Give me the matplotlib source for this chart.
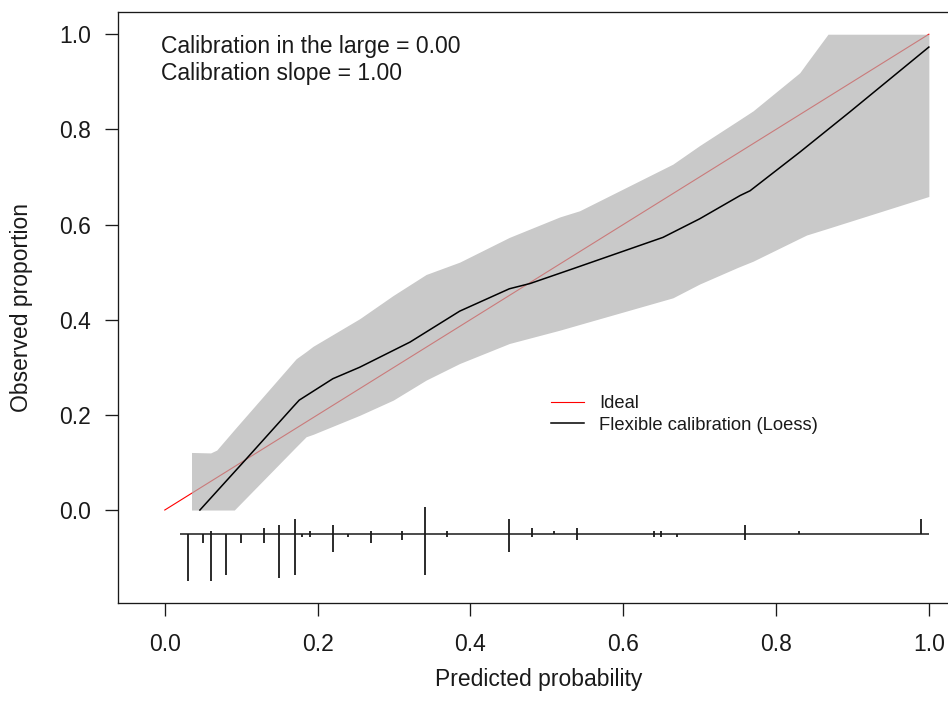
"""
calibration_plot.py
Flexible (loess) calibration curve with 95% band, ideal line and
spike histogram of predicted risks (events up, non-events down).
"""

import numpy as np
import matplotlib
matplotlib.use("Agg")
import matplotlib.pyplot as plt

# ── Data ──────────────────────────────────────────────────────
CAL_LARGE = 0.00
CAL_SLOPE = 1.00

ideal_x = [0.0, 1.0]
ideal_y = [0.0, 1.0]

loess_x = [0.046, 0.107, 0.168, 0.176, 0.220, 0.255, 0.321, 0.386, 0.451,
           0.478, 0.534, 0.652, 0.700, 0.753, 0.766, 0.831, 0.896, 1.000]
loess_y = [0.000, 0.108, 0.217, 0.231, 0.276, 0.300, 0.353, 0.418, 0.465,
           0.476, 0.507, 0.573, 0.612, 0.661, 0.671, 0.752, 0.836, 0.973]

band_x  = [0.035, 0.060, 0.068, 0.091, 0.172, 0.185, 0.194, 0.255, 0.299,
           0.342, 0.386, 0.451, 0.517, 0.543, 0.665, 0.700, 0.750, 0.770,
           0.831, 0.840, 0.868, 1.000]
band_hi = [0.121, 0.120, 0.126, 0.169, 0.318, 0.333, 0.344, 0.402, 0.451,
           0.495, 0.521, 0.573, 0.616, 0.629, 0.727, 0.766, 0.818, 0.839,
           0.919, 0.939, 1.000, 1.000]
band_lo = [0.000, 0.000, 0.000, 0.000, 0.133, 0.154, 0.159, 0.199, 0.231,
           0.273, 0.308, 0.350, 0.378, 0.390, 0.446, 0.475, 0.510, 0.523,
           0.571, 0.578, 0.592, 0.659]

# spike histogram: bin position, count of non-events (down), events (up)
spike_x  = [0.03, 0.05, 0.06, 0.08, 0.10, 0.13, 0.15, 0.17, 0.18, 0.19,
            0.22, 0.24, 0.27, 0.31, 0.34, 0.37, 0.45, 0.48, 0.51, 0.54,
            0.64, 0.65, 0.67, 0.76, 0.83, 0.99]
n_nonevt = [16, 3, 16, 14, 3, 3, 15, 14, 1, 1,
            6, 1, 3, 2, 14, 1, 6, 1, 0, 2,
            1, 1, 1, 2, 0, 0]
n_event  = [0, 0, 1, 0, 0, 2, 3, 5, 0, 1,
            3, 0, 1, 1, 9, 1, 5, 2, 1, 2,
            1, 1, 0, 3, 1, 5]

# ── Style ─────────────────────────────────────────────────────
FONT      = ["Liberation Sans", "DejaVu Sans"]
FS_MAIN   = 16.5
FS_LEG    = 13.2
INK       = "#1a1a1a"
BAND_CLR  = (177 / 255, 177 / 255, 177 / 255)
BAND_A    = 177 / 255
SPIKE_Y   = -0.05        # baseline of the spike histogram
SPIKE_MAX = 0.1          # longest spike length

plt.rcParams["font.family"] = FONT


def draw_spikes(ax):
    x = np.array(spike_x)
    f0 = np.array(n_nonevt, dtype=float)
    f1 = np.array(n_event, dtype=float)
    scale = SPIKE_MAX / max(f0.max(), f1.max())
    ax.plot([x.min() - 0.01, x.max() + 0.01], [SPIKE_Y, SPIKE_Y],
            color=INK, lw=1.1, solid_capstyle="butt")
    m0 = f0 > 0
    ax.vlines(x[m0], SPIKE_Y - f0[m0] * scale, SPIKE_Y, color=INK, lw=1.3)
    m1 = f1 > 0
    ax.vlines(x[m1], SPIKE_Y, SPIKE_Y + f1[m1] * scale, color=INK, lw=1.3)


def main():
    fig = plt.figure(figsize=(9.48, 7.17), dpi=100)
    # axes runs past the right edge like in the source screenshot
    ax = fig.add_axes([0.1248, 0.1586, 0.8879, 0.8242])

    l_ideal, = ax.plot(ideal_x, ideal_y, color="#ff0000", lw=0.8, zorder=1)
    ax.fill_between(band_x, band_lo, band_hi, color=BAND_CLR, alpha=BAND_A,
                    lw=0, zorder=2)
    l_loess, = ax.plot(loess_x, loess_y, color="black", lw=1.1, zorder=3)
    draw_spikes(ax)

    ax.set_xlim(-0.0608, 1.0408)
    ax.set_ylim(-0.196, 1.046)
    ticks = np.arange(0, 1.01, 0.2)
    ax.set_xticks(ticks)
    ax.set_yticks(ticks)
    ax.set_xticklabels([f"{t:.1f}" for t in ticks])
    ax.set_yticklabels([f"{t:.1f}" for t in ticks])
    ax.tick_params(direction="out", length=9.4, width=0.95, color=INK,
                   labelsize=FS_MAIN, labelcolor=INK, pad=10.5)
    ax.tick_params(axis="x", pad=12)
    for spine in ax.spines.values():
        spine.set_linewidth(0.95)
        spine.set_color(INK)

    ax.set_xlabel("Predicted probability", fontsize=FS_MAIN, color=INK)
    ax.set_ylabel("Observed proportion", fontsize=FS_MAIN, color=INK)
    ax.xaxis.set_label_coords(0.5, -0.109)
    ax.yaxis.set_label_coords(-0.101, 0.5)

    ax.text(-0.005, 0.961, f"Calibration in the large = {CAL_LARGE:.2f}",
            fontsize=FS_MAIN, color=INK, va="baseline", ha="left")
    ax.text(-0.005, 0.904, f"Calibration slope = {CAL_SLOPE:.2f}",
            fontsize=FS_MAIN, color=INK, va="baseline", ha="left")

    ax.legend([l_ideal, l_loess], ["Ideal", "Flexible calibration (Loess)"],
              loc="upper left", bbox_to_anchor=(0.5137, 0.352),
              frameon=False, fontsize=FS_LEG, handlelength=1.82,
              handletextpad=0.82, labelspacing=0.24, borderpad=0,
              borderaxespad=0, labelcolor=INK)

    fig.savefig("out.png", dpi=100)


if __name__ == "__main__":
    main()
